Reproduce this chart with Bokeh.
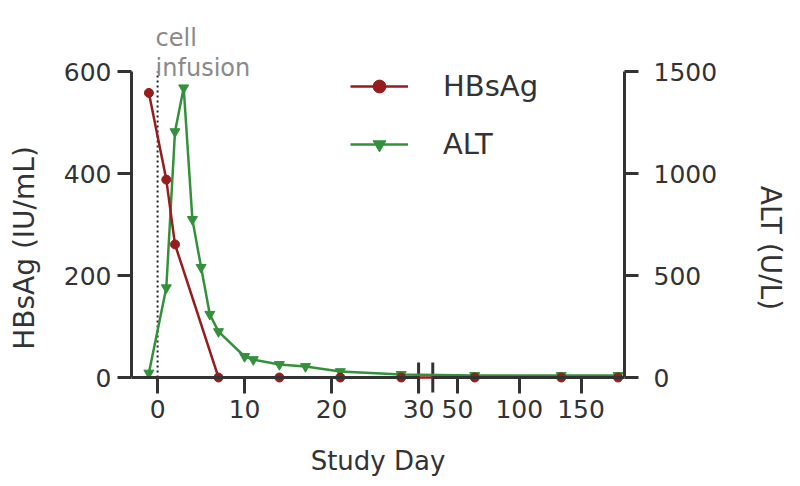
from bokeh.plotting import figure
from bokeh.models import Range1d, LinearAxis, FixedTicker, Legend, LegendItem, Label
from bokeh.embed import file_html
from bokeh.resources import INLINE

# ---------------- data ----------------
hbsag_day = [-1, 1, 2, 7, 14, 21, 28, 64, 134, 180]
hbsag_iu = [558, 388, 261, 0, 0, 0, 0, 0, 0, 0]

alt_day = [-1, 1, 2, 3, 4, 5, 6, 7, 10, 11, 14, 17, 21, 28, 64, 134, 180]
alt_ul = [22, 440, 1205, 1420, 775, 540, 310, 225, 103, 88, 64, 54, 29, 15, 10, 10, 10]

x_ticks_early = [0, 10, 20, 30]
x_ticks_late = [50, 100, 150]
hbsag_ticks = [0, 200, 400, 600]
alt_ticks = [0, 500, 1000, 1500]
infusion_day = 0

# ---------------- broken x axis mapping ----------------
BREAK = 30          # end of first segment (days)
GAP = 1.63          # visual gap between the segments (axis units)
K = 0.142           # compression of the second segment
DAY_MIN, DAY_MAX = -3, 185.2


def u(d):
    return d if d <= BREAK else BREAK + GAP + (d - BREAK) * K


HB_MAX, ALT_MAX = 600, 1500
AXIS_PX = 306                 # pixel height of 0..max
FRAME_H = 467
ABOVE_PX = 57                 # frame space above the top tick
BELOW_PX = FRAME_H - AXIS_PX - ABOVE_PX
hb_per_px = HB_MAX / AXIS_PX
alt_per_px = ALT_MAX / AXIS_PX
hb_range = Range1d(-BELOW_PX * hb_per_px, HB_MAX + ABOVE_PX * hb_per_px)
alt_range = Range1d(-BELOW_PX * alt_per_px, ALT_MAX + ABOVE_PX * alt_per_px)

RED = "#961d1d"
GREEN = "#33913c"
AX = "#333333"
FONT = "DejaVu Sans"

p = figure(frame_width=493, frame_height=FRAME_H,
           min_border_left=131, min_border_top=14, min_border_right=158, min_border_bottom=0,
           x_range=Range1d(u(DAY_MIN), u(DAY_MAX)), y_range=hb_range,
           x_axis_location=None, y_axis_location=None,
           toolbar_location=None, output_backend="svg")
p.extra_y_ranges = {"alt": alt_range}
p.grid.visible = False
p.outline_line_color = None
p.background_fill_color = "white"
p.border_fill_color = "white"


def style(ax, tick_out=14, label_standoff=6, title_standoff=20):
    ax.axis_line_width = 3
    ax.axis_line_color = AX
    ax.major_tick_line_width = 3
    ax.major_tick_line_color = AX
    ax.major_tick_out = tick_out
    ax.major_tick_in = 0
    ax.minor_tick_out = 0
    ax.minor_tick_in = 0
    ax.major_label_text_font = FONT
    ax.major_label_text_font_size = "25px"
    ax.major_label_text_color = AX
    ax.major_label_standoff = label_standoff
    ax.axis_label_text_font = FONT
    ax.axis_label_text_font_size = "28px"
    ax.axis_label_text_font_style = "normal"
    ax.axis_label_text_color = AX
    ax.axis_label_standoff = title_standoff


# left y axis (HBsAg)
ly = LinearAxis(ticker=FixedTicker(ticks=hbsag_ticks), bounds=(0, HB_MAX),
                axis_label="HBsAg (IU/mL)")
style(ly, tick_out=14, label_standoff=6, title_standoff=20)
p.add_layout(ly, "left")

# right y axis (ALT)
ry = LinearAxis(y_range_name="alt", ticker=FixedTicker(ticks=alt_ticks), bounds=(0, ALT_MAX),
                axis_label="ALT (U/L)")
style(ry, tick_out=14, label_standoff=15, title_standoff=34)
p.add_layout(ry, "right")

# x axis: two segments placed at y = 0 (inside the frame)
xa = LinearAxis(ticker=FixedTicker(ticks=[u(t) for t in x_ticks_early]),
                bounds=(u(DAY_MIN), BREAK), fixed_location=0)
style(xa, tick_out=16, label_standoff=6)
p.add_layout(xa, "below")

late_ticks = [u(t) for t in x_ticks_late]
xb = LinearAxis(ticker=FixedTicker(ticks=late_ticks),
                bounds=(BREAK + GAP, u(DAY_MAX)), fixed_location=0)
xb.major_label_overrides = {v: str(t) for v, t in zip(late_ticks, x_ticks_late)}
style(xb, tick_out=16, label_standoff=6)
p.add_layout(xb, "below")

# title of the whole (broken) x axis, centred under both segments
xt = LinearAxis(ticker=FixedTicker(ticks=[]), fixed_location=0, axis_label="Study Day")
style(xt, tick_out=0, label_standoff=0, title_standoff=68)
xt.axis_line_color = None
xt.axis_label_text_font_size = "26px"
p.add_layout(xt, "below")

# break marks on the x axis
bm = 15 * hb_per_px
p.segment(x0=[BREAK, BREAK + GAP], y0=[-bm, -bm], x1=[BREAK, BREAK + GAP], y1=[bm, bm],
          line_color=AX, line_width=3)

# cell infusion marker
p.segment(x0=[u(infusion_day)], y0=[0], x1=[u(infusion_day)], y1=[HB_MAX],
          line_color="#222222", line_width=2, line_dash="2 3")
p.add_layout(Label(x=u(infusion_day), y=HB_MAX + 34 * hb_per_px, text="cell",
                   text_font=FONT, text_font_size="24px", text_color="#8a8a8a",
                   text_align="left", text_baseline="alphabetic", x_offset=-2))
p.add_layout(Label(x=u(infusion_day), y=HB_MAX + 4 * hb_per_px, text="infusion",
                   text_font=FONT, text_font_size="24px", text_color="#8a8a8a",
                   text_align="left", text_baseline="alphabetic", x_offset=-2))

# data
ax_u = [u(d) for d in alt_day]
hb_u = [u(d) for d in hbsag_day]
g_line = p.line(ax_u, alt_ul, y_range_name="alt", line_color=GREEN, line_width=2.5)
g_pts = p.scatter(ax_u, alt_ul, y_range_name="alt", marker="inverted_triangle", size=10,
                  fill_color=GREEN, line_color=GREEN)
r_line = p.line(hb_u, hbsag_iu, line_color=RED, line_width=2.5)
r_pts = p.scatter(hb_u, hbsag_iu, marker="circle", size=9, fill_color=RED, line_color=RED)

legend = Legend(items=[LegendItem(label="HBsAg", renderers=[r_line, r_pts]),
                       LegendItem(label="ALT", renderers=[g_line, g_pts])],
                location=(219, 320), orientation="vertical",
                glyph_width=58, glyph_height=32, label_height=32, label_standoff=35,
                spacing=24, padding=0, margin=0,
                border_line_color=None, background_fill_alpha=0,
                label_text_font=FONT, label_text_font_size="29px", label_text_color=AX)
p.add_layout(legend)

open("out.html", "w").write(file_html(p, INLINE))
